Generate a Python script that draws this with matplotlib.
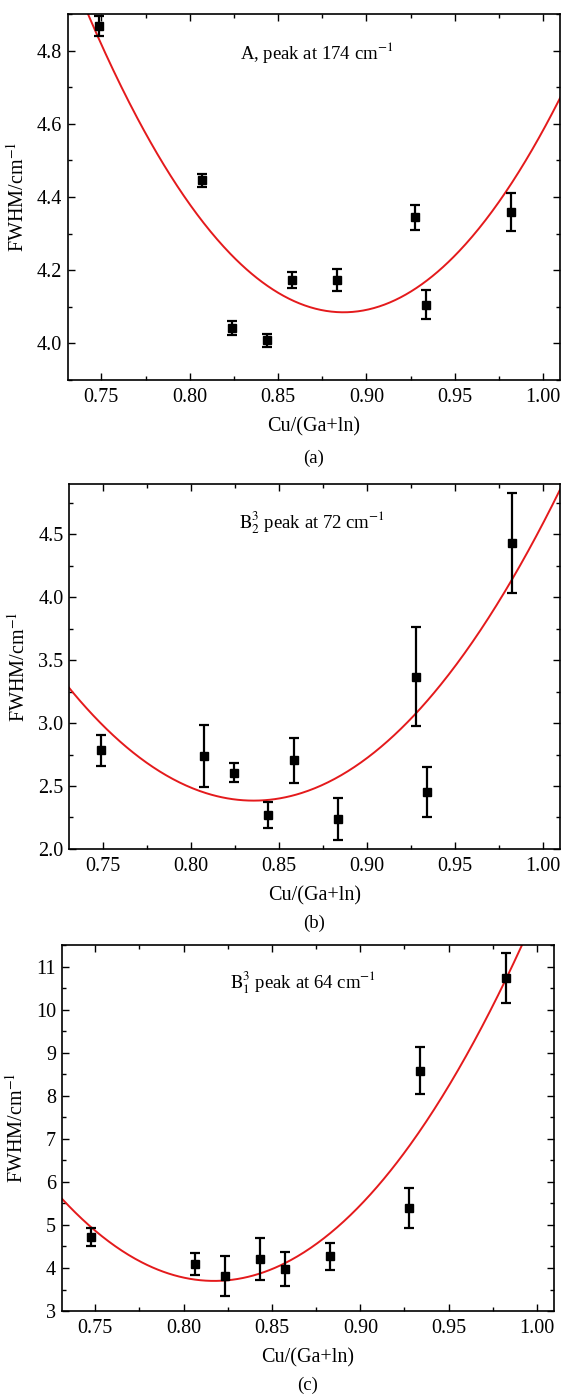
import numpy as np
import matplotlib
matplotlib.use('Agg')
import matplotlib.pyplot as plt
from matplotlib.ticker import MultipleLocator, FormatStrFormatter

plt.rcParams['font.family'] = ['Liberation Serif', 'DejaVu Serif']
plt.rcParams['mathtext.fontset'] = 'stix'

# Cu/(Ga+In) ratio of the samples
x_ratio = [0.7486, 0.8071, 0.8241, 0.8436, 0.858, 0.8831, 0.9277, 0.9338, 0.982]

# FWHM values and error bars per Raman mode
fwhm_a = [4.867, 4.445, 4.041, 4.008, 4.173, 4.173, 4.344, 4.106, 4.359]
err_a = [0.027, 0.018, 0.019, 0.019, 0.021, 0.030, 0.035, 0.040, 0.051]

x_b = [0.7494, 0.8075, 0.8248, 0.844, 0.8584, 0.8835, 0.928, 0.9341, 0.9824]
fwhm_b = [2.783, 2.738, 2.606, 2.270, 2.704, 2.241, 3.370, 2.452, 4.429]
err_b = [0.12, 0.246, 0.074, 0.107, 0.177, 0.167, 0.39, 0.20, 0.397]

x_c = [0.7476, 0.8063, 0.8235, 0.8433, 0.8576, 0.8829, 0.9278, 0.9339, 0.9825]
fwhm_c = [4.72, 4.10, 3.81, 4.20, 3.98, 4.27, 5.39, 8.58, 10.73]
err_c = [0.22, 0.255, 0.457, 0.49, 0.39, 0.32, 0.465, 0.55, 0.585]

# parabolic fits: [curvature, vertex x, vertex y]
fit_a = [39.0, 0.887, 4.085]
fit_b = [81.8, 0.8357, 2.384]
fit_c = [257.0, 0.8173, 3.70]

titles = [r'A, peak at 174 cm$^{\mathrm{-1}}$',
          r'$\mathrm{B}_2^3$ peak at 72 cm$^{\mathrm{-1}}$',
          r'$\mathrm{B}_1^3$ peak at 64 cm$^{\mathrm{-1}}$']
panel_tags = ['(a)', '(b)', '(c)']

fig = plt.figure(figsize=(5.62, 13.94), dpi=100)

axes_rects = [[0.1205, 0.7274, 0.876, 0.2626],
              [0.1228, 0.3910, 0.8737, 0.2618],
              [0.1098, 0.0595, 0.8756, 0.2626]]
ylims = [(3.9, 4.9), (2.0, 4.9), (3.0, 11.5)]
ymajor = [0.2, 0.5, 1.0]
yfmt = ['%.1f', '%.1f', '%d']
title_pos = [(0.35, 0.896), (0.346, 0.893), (0.342, 0.896)]
tag_y = [-0.214, -0.203, -0.202]

datasets = [(x_ratio, fwhm_a, err_a, fit_a),
            (x_b, fwhm_b, err_b, fit_b),
            (x_c, fwhm_c, err_c, fit_c)]

for i, (xs, ys, es, fit) in enumerate(datasets):
    ax = fig.add_axes(axes_rects[i])
    xx = np.linspace(0.72, 1.02, 400)
    ax.plot(xx, fit[0] * (xx - fit[1])**2 + fit[2], color='#e41a1c', lw=1.4, zorder=2)
    ax.errorbar(xs, ys, yerr=es, fmt='s', color='black', ms=5.5,
                elinewidth=1.6, capsize=3.5, capthick=1.6, zorder=3)
    ax.set_xlim(0.731, 1.0095)
    ax.set_ylim(*ylims[i])
    ax.xaxis.set_major_locator(MultipleLocator(0.05))
    ax.xaxis.set_minor_locator(MultipleLocator(0.025))
    ax.xaxis.set_major_formatter(FormatStrFormatter('%.2f'))
    ax.yaxis.set_major_locator(MultipleLocator(ymajor[i]))
    ax.yaxis.set_minor_locator(MultipleLocator(ymajor[i] / 2))
    ax.yaxis.set_major_formatter(FormatStrFormatter(yfmt[i]))
    ax.tick_params(which='both', direction='in', top=True, right=True,
                   width=1.0, labelsize=14.5)
    ax.tick_params(which='major', length=5)
    ax.tick_params(which='minor', length=3)
    ax.tick_params(axis='x', pad=6)
    ax.tick_params(axis='y', pad=4)
    for sp in ax.spines.values():
        sp.set_linewidth(1.2)
    ax.set_xlabel('Cu/(Ga+ln)', fontsize=14.5, labelpad=7)
    ax.set_ylabel(r'FWHM/cm$^{\mathrm{-1}}$', fontsize=14.5, labelpad=6)
    ax.text(title_pos[i][0], title_pos[i][1], titles[i], transform=ax.transAxes,
            fontsize=13.5, ha='left', va='center')
    ax.text(0.5, tag_y[i], panel_tags[i], transform=ax.transAxes,
            fontsize=13.5, ha='center', va='center')

fig.savefig('out.png', dpi=100)
